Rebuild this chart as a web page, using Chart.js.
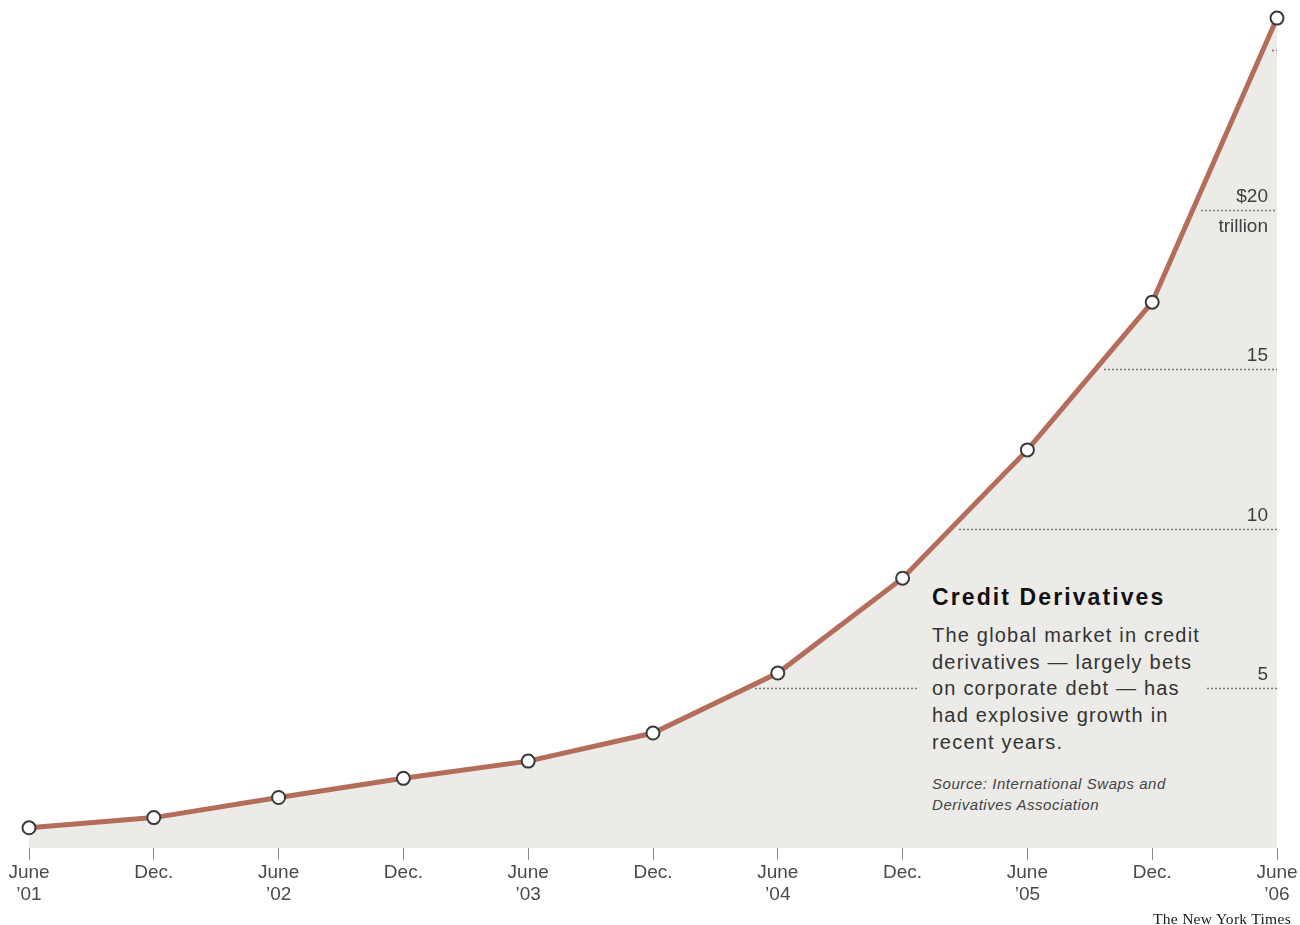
<!DOCTYPE html>
<html>
<head>
<meta charset="utf-8">
<title>Credit Derivatives</title>
<script src="https://cdn.jsdelivr.net/npm/chart.js@4/dist/chart.umd.min.js"></script>
<style>
    html, body { margin: 0; padding: 0; background: #fff; }
    #wrap { position: relative; width: 1300px; height: 925px; }
    canvas { display: block; }
    .note {
        position: absolute; left: 918px; top: 580px; width: 273px;
        padding: 2px 0 12px 14px; background: #ecebe7;
        font-family: "Liberation Sans", Arial, sans-serif; color: #333;
    }
    .note h1 { margin: 0 0 10px 0; font-size: 23px; letter-spacing: 2.1px; font-weight: bold; color: #111; line-height: 30px; white-space: nowrap; }
    .note p { margin: 0; font-size: 20px; letter-spacing: 1.2px; line-height: 26.7px; }
    .note .src { margin-top: 17px; font-size: 15px; letter-spacing: 0.55px; line-height: 21px; font-style: italic; color: #444; }
    .credit {
        position: absolute; right: 9px; top: 910px;
        font-family: "Liberation Serif", "Times New Roman", serif; font-size: 15.5px; letter-spacing: 0.3px; color: #1a1a1a;
    }
</style>
</head>
<body>
<div id="wrap">
    <canvas id="chart" width="1300" height="925"></canvas>
    <div class="note">
        <h1>Credit Derivatives</h1>
        <p>The global market in credit derivatives — largely bets on corporate debt — has had explosive growth in recent years.</p>
        <p class="src">Source: International Swaps and Derivatives Association</p>
    </div>
    <div class="credit">The New York Times</div>
</div>
<script>
// half-year periods, June 2001 to June 2006
const periods = [
    ['June', '’01'], ['Dec.'], ['June', '’02'], ['Dec.'], ['June', '’03'], ['Dec.'],
    ['June', '’04'], ['Dec.'], ['June', '’05'], ['Dec.'], ['June', '’06']
];
// notional outstanding, trillions of dollars
const notional = [0.63, 0.95, 1.58, 2.18, 2.72, 3.6, 5.48, 8.45, 12.47, 17.1, 26.0];

const yTicks = [5, 10, 15, 20, 25];
const yTickLabels = [['5'], ['10'], ['15'], ['$20', 'trillion'], []];

const lineColor = '#b36d5b';
const fillColor = '#ecebe7';

// dotted gridlines only inside the shaded area, from the curve to the right edge,
// with the value written just above the line at the right
const areaGrid = {
    id: 'areaGrid',
    afterDatasetsDraw(chart) {
        const { ctx, chartArea, scales } = chart;
        const pts = chart.getDatasetMeta(0).data;
        ctx.save();
        yTicks.forEach((v, k) => {
            const py = Math.round(scales.y.getPixelForValue(v)) + 0.5;
            let startX = null;
            for (let i = 0; i < pts.length - 1; i++) {
                if (notional[i] < v && notional[i + 1] >= v) {
                    const t = (py - pts[i].y) / (pts[i + 1].y - pts[i].y);
                    startX = pts[i].x + t * (pts[i + 1].x - pts[i].x);
                    break;
                }
            }
            if (startX === null) return;
            ctx.strokeStyle = '#7a7a7a';
            ctx.lineWidth = 1.5;
            ctx.setLineDash([2, 2]);
            ctx.beginPath();
            ctx.moveTo(Math.round(startX + 9), py);
            ctx.lineTo(chartArea.right, py);
            ctx.stroke();

            const lines = yTickLabels[k];
            ctx.fillStyle = '#3f3f3f';
            ctx.font = '19px "Liberation Sans", Arial, sans-serif';
            ctx.textAlign = 'right';
            ctx.textBaseline = 'middle';
            if (lines[0]) ctx.fillText(lines[0], chartArea.right - 9, py - 14);
            if (lines[1]) ctx.fillText(lines[1], chartArea.right - 9, py + 16);
        });
        ctx.restore();
    }
};

new Chart(document.getElementById('chart'), {
    type: 'line',
    data: {
        labels: periods,
        datasets: [{
            data: notional,
            borderColor: lineColor,
            borderWidth: 5,
            backgroundColor: fillColor,
            fill: 'origin',
            tension: 0,
            pointRadius: 6.5,
            pointBorderWidth: 2,
            pointBorderColor: '#3a3a3a',
            pointBackgroundColor: '#ffffff'
        }]
    },
    options: {
        responsive: false,
        animation: false,
        layout: { padding: { left: 29, right: 23, top: 0, bottom: 17 } },
        plugins: { legend: { display: false }, tooltip: { enabled: false } },
        scales: {
            x: {
                offset: false,
                grid: { display: true, drawOnChartArea: false, drawTicks: true, tickLength: 12, color: '#888', lineWidth: 1 },
                border: { display: false },
                ticks: {
                    autoSkip: false, maxRotation: 0, padding: 2, color: '#4a4a4a',
                    font: { family: '"Liberation Sans", Arial, sans-serif', size: 19, lineHeight: 1.16 }
                }
            },
            y: {
                display: false,
                min: 0,
                max: 26.3
            }
        }
    },
    plugins: [areaGrid]
});
</script>
</body>
</html>
